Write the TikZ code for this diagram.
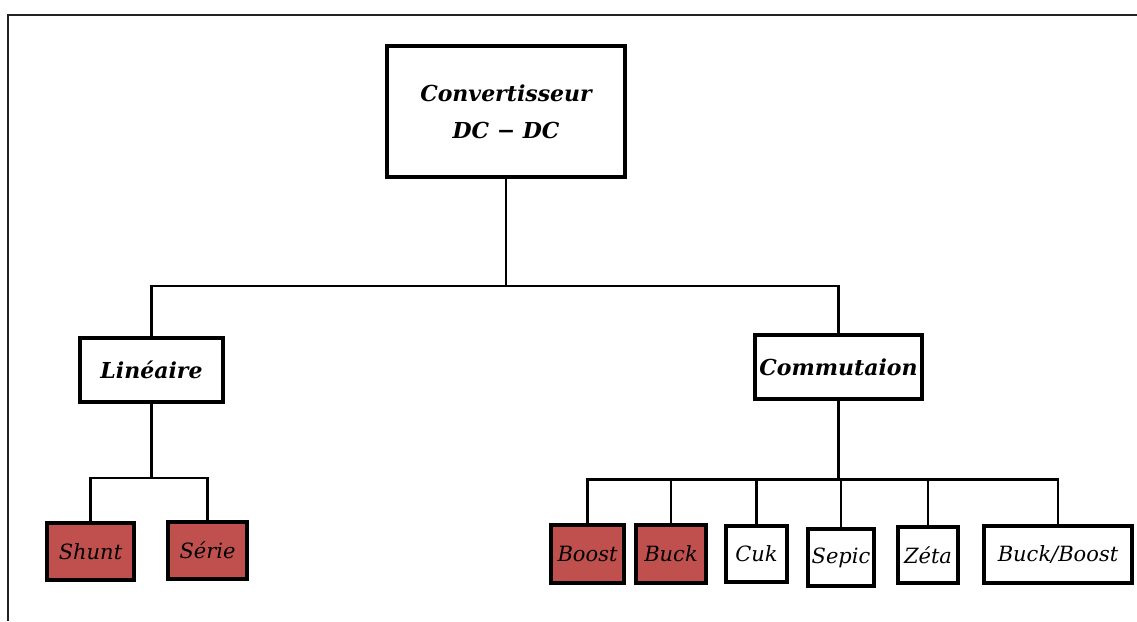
\documentclass[tikz,border=0pt]{standalone}
\usepackage{fontspec}
\setmainfont{DejaVu Serif}
\definecolor{boxred}{HTML}{C0504D}
\definecolor{framegray}{HTML}{222222}
\begin{document}
\begin{tikzpicture}[x=1pt,y=-1pt,
  box/.style={draw=black, line width=3.2pt, fill=white, inner sep=0pt,
    font=\fontsize{21}{30}\selectfont\itshape},
  boldbox/.style={box, font=\fontsize{22}{37}\selectfont\bfseries\itshape, align=center},
  redbox/.style={box, fill=boxred},
  link/.style={draw=black, line width=2.4pt}]
\useasboundingbox (0,0) rectangle (1137,621);
\fill[white] (0,0) rectangle (1137,621);

% outer frame, running off the page on the right and bottom
\draw[framegray, line width=2.2pt] (8,621) -- (8,15) -- (1137,15);

% boxes
\node[boldbox, minimum width=238pt, minimum height=131pt] (top) at (506,111.5) {Convertisseur\\DC − DC};
\node[boldbox, minimum width=143pt, minimum height=64pt] (lin) at (151.5,370) {Linéaire};
\node[boldbox, minimum width=167pt, minimum height=64pt] (com) at (838.5,367) {Commutaion};

\node[redbox, minimum width=87pt, minimum height=57pt] (shunt) at (90.5,551.5) {Shunt};
\node[redbox, minimum width=79pt, minimum height=57pt] (serie) at (207.5,550.5) {Série};

\node[redbox, minimum width=73pt, minimum height=58pt] (boost) at (587.5,554) {Boost};
\node[redbox, minimum width=70pt, minimum height=58pt] (buck) at (671,554) {Buck};
\node[box, minimum width=61pt, minimum height=56pt] (cuk) at (756.5,554) {Cuk};
\node[box, minimum width=66pt, minimum height=57pt] (sepic) at (841,557.5) {Sepic};
\node[box, minimum width=60pt, minimum height=56pt] (zeta) at (928,555) {Zéta};
\node[box, minimum width=148pt, minimum height=57pt] (bb) at (1058,554.5) {Buck/Boost};

% bus levels
\coordinate (busTop) at (0,286);
\coordinate (busLin) at (0,478);
\coordinate (busCom) at (0,479.5);

% first level
\draw[link] (top.south) -- (top.south |- busTop);
\draw[link] (lin.north) |- (com.north |- busTop) -- (com.north);

% linear branch
\draw[link] (lin.south) -- (lin.south |- busLin);
\draw[link] (shunt.north) |- (serie.north |- busLin) -- (serie.north);

% switching branch
\draw[link] (com.south) -- (com.south |- busCom);
\draw[link] (boost.north) |- (bb.north |- busCom) -- (bb.north);
\foreach \n in {buck,cuk,sepic,zeta}
  \draw[link] (\n.north) -- (\n.north |- busCom);
\end{tikzpicture}
\end{document}
